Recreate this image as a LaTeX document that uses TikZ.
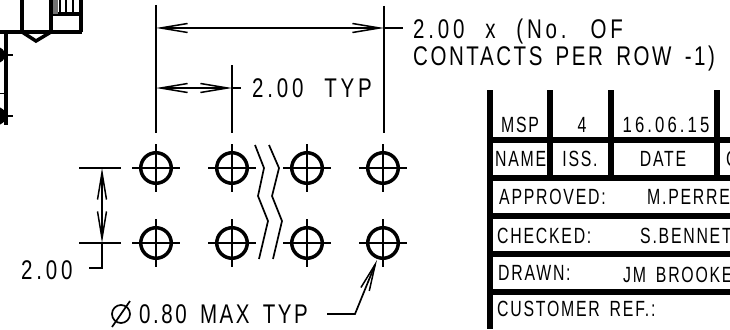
\documentclass[tikz,border=0pt]{standalone}
\usepackage{fontspec}
\newfontfamily\dimfont[FakeStretch=0.76,LetterSpace=9.5,WordSpace=1.6]{Liberation Sans}
\newfontfamily\widefont[FakeStretch=0.76,LetterSpace=14,WordSpace=2.2]{Liberation Sans}
\newfontfamily\tablefont[FakeStretch=0.72,LetterSpace=8,WordSpace=1.6]{Liberation Sans}
\usetikzlibrary{arrows.meta}
\tikzset{
  dim line/.style={line width=1.7pt},
  dim tip/.tip={Straight Barb[length=27pt,width=9pt,line width=1.5pt]},
  dim arrow/.style={dim line,dim tip-dim tip},
  pad ring/.style={circle,draw,line width=3.5pt,minimum size=30.5pt,inner sep=0pt},
  part line/.style={line width=3.5pt},
  table line/.style={line width=5.3pt},
  dim text/.style={inner sep=0pt,anchor=base west,font=\dimfont\fontsize{27}{27}\selectfont},
  wide text/.style={dim text,font=\widefont\fontsize{27}{27}\selectfont},
  table text/.style={inner sep=0pt,anchor=base,font=\tablefont\fontsize{22}{22}\selectfont},
}
\newcommand{\padmark}[3]{%
  \node[pad ring] (#1) at (#2,#3) {};
  \draw[dim line] (#2-24,#3) -- (#2+24,#3) (#2,#3-24) -- (#2,#3+24);
}
\begin{document}
\begin{tikzpicture}[x=1pt,y=-1pt]
  \useasboundingbox (0,0) rectangle (730,329);
  % pads
  \padmark{pa}{156}{168}
  \padmark{pb}{232}{168}
  \padmark{pc}{307}{168}
  \padmark{pd}{383}{168}
  \padmark{pe}{156}{243}
  \padmark{pf}{232}{243}
  \padmark{pg}{307}{243}
  \padmark{ph}{383}{243}
  % break lines
  \draw[dim line] (255,145) -- (264,168) -- (258,196) -- (268,221) -- (259,259);
  \draw[dim line] (269,145) -- (279,168) -- (272,196) -- (282,221) -- (273,259);
  % dimensions
  \coordinate (topa) at (156,5);
  \coordinate (topb) at (156,133);
  \coordinate (topc) at (384,6);
  \coordinate (topd) at (384,133);
  \coordinate (topm) at (232,65);
  \coordinate (tope) at (232,133);
  \draw[dim line] (topa) -- (topb);
  \draw[dim line] (topc) -- (topd);
  \draw[dim line] (topm) -- (tope);
  \coordinate (widl) at (156,28);
  \coordinate (widr) at (384,28);
  \coordinate (widx) at (403,28);
  \coordinate (pitl) at (156,88);
  \coordinate (pitr) at (232,88);
  \coordinate (pitx) at (241,88);
  \draw[dim arrow] (widl) -- (widr);
  \draw[dim line] (widr) -- (widx);
  \draw[dim arrow] (pitl) -- (pitr);
  \draw[dim line] (pitr) -- (pitx);
  \node[wide text] (widlabel) at (413,38) {2.00 x (No. OF};
  \node[dim text] (widlabelb) at (413,66) {CONTACTS PER ROW -1)};
  \node[wide text] (pitlabel) at (252,97) {2.00 TYP};
  % vertical pitch
  \coordinate (vera) at (79,168);
  \coordinate (verb) at (121,168);
  \coordinate (verc) at (79,243);
  \coordinate (verd) at (121,243);
  \draw[dim line] (vera) -- (verb);
  \draw[dim line] (verc) -- (verd);
  \coordinate (vert) at (102,168);
  \coordinate (verm) at (102,243);
  \coordinate (verk) at (102,268);
  \coordinate (vere) at (89,268);
  \draw[dim arrow] (vert) -- (verm);
  \draw[dim line] (verm) -- (verk) -- (vere);
  \node[wide text] (vlabel) at (21,279) {2.00};
  % leader
  \coordinate (leada) at (327,314);
  \coordinate (leadb) at (355,314);
  \coordinate (leadc) at (377,260);
  \draw[dim line,-dim tip] (leada) -- (leadb) -- (leadc);
  \node[dim text] (dialabel) at (139,323) {0.80 MAX TYP};
  \node[dim line,circle,draw,minimum size=18pt,inner sep=0pt] (diaring) at (121,314) {};
  \draw[dim line] (112,327) -- (130,301);
  % left part view
  \draw[part line] (0,32) -- (82,32);
  \draw[part line] (22,0) -- (22,32);
  \draw[line width=4.5pt] (51,0) -- (51,32);
  \draw[part line] (22,32) -- (36,41) -- (51,32);
  \draw[part line] (51,14) -- (81,14);
  \draw[part line] (81,0) -- (81,32);
  \fill[black!55] (53,0) rectangle (58,14);
  \draw[dim line] (60,0) -- (60,14) (66,0) -- (66,14) (73,0) -- (73,14);
  \draw[part line] (6,32) -- (6,125);
  \draw[dim line] (0,55) -- (13,55) (0,116) -- (13,116);
  \draw[line width=0.8pt] (0,93) -- (6,93);
  \fill (-3,55) circle (8);
  \fill (-3,116) circle (9);
  % title table
  \draw[table line] (490,90) -- (490,329);
  \draw[table line] (550,90) -- (550,178);
  \draw[table line] (611,90) -- (611,178);
  \draw[table line] (717,90) -- (717,178);
  \draw[table line] (490,140) -- (730,140);
  \draw[table line] (490,178) -- (730,178);
  \draw[table line] (490,216) -- (730,216);
  \draw[table line] (490,254) -- (730,254);
  \draw[table line] (490,292) -- (730,292);
  \node[table text] (msp) at (520,132) {MSP};
  \node[table text] (iss) at (582,132) {4};
  \node[table text,font=\widefont\fontsize{22}{22}\selectfont] (date) at (666,132) {16.06.15};
  \node[table text,anchor=base west] (namecell) at (495,166) {NAME};
  \node[table text] (isscell) at (580,166) {ISS.};
  \node[table text] (datecell) at (663,166) {DATE};
  \node[table text,anchor=base west] (chk) at (726,166) {C};
  \node[table text,anchor=base west] (appr) at (499,204) {APPROVED:};
  \node[table text,anchor=base west] (apprn) at (647,204) {M.PERRE};
  \node[table text,anchor=base west] (chkd) at (497,243) {CHECKED:};
  \node[table text,anchor=base west] (chkn) at (640,243) {S.BENNET};
  \node[table text,anchor=base west] (drwn) at (498,280) {DRAWN:};
  \node[table text,anchor=base west] (drwm) at (623,282) {JM BROOKE};
  \node[table text,anchor=base west] (cust) at (497,316) {CUSTOMER REF.:};
\end{tikzpicture}
\end{document}
